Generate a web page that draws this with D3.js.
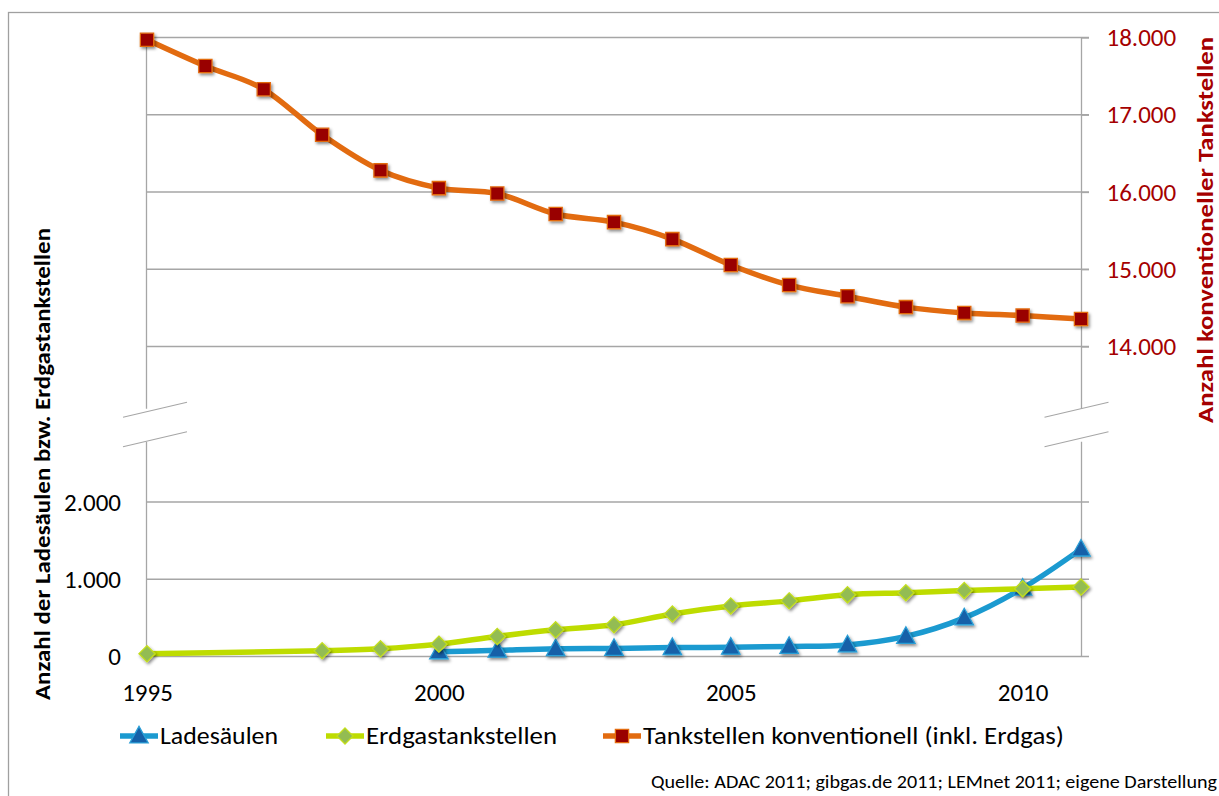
<!DOCTYPE html>
<html>
<head>
<meta charset="utf-8">
<script src="https://cdn.jsdelivr.net/npm/d3@7"></script>
<style>
  html, body { margin: 0; padding: 0; background: #fff; }
  svg { display: block; }
  text { font-family: Carlito, Lato, "Open Sans", sans-serif; }
</style>
</head>
<body>
<svg id="chart" width="1219" height="796"></svg>
<script>
// Jahre und Werte
const years = [1995, 1996, 1997, 1998, 1999, 2000, 2001, 2002, 2003, 2004, 2005, 2006, 2007, 2008, 2009, 2010, 2011];
const ladesaeulen = [null, null, null, null, null, 60, 80, 100, 105, 115, 120, 130, 150, 260, 500, 885, 1390];
const erdgastankstellen = [35, null, null, 75, 100, 160, 260, 345, 410, 550, 655, 720, 800, 825, 855, 877, 899];
const tankstellen = [17970, 17630, 17330, 16740, 16280, 16050, 15980, 15715, 15610, 15390, 15055, 14795, 14650, 14510, 14435, 14400, 14355];

const xTicks = [1995, 2000, 2005, 2010];
const leftTicks = [0, 1000, 2000];
const rightTicks = [14000, 15000, 16000, 17000, 18000];

const seriesNames = ["Ladesäulen", "Erdgastankstellen", "Tankstellen konventionell (inkl. Erdgas)"];
const leftTitle = "Anzahl der Ladesäulen bzw. Erdgastankstellen";
const rightTitle = "Anzahl konventioneller Tankstellen";
const sourceNote = "Quelle:  ADAC 2011; gibgas.de 2011; LEMnet 2011; eigene Darstellung";

const de = d3.formatLocale({ decimal: ",", thousands: ".", grouping: [3], currency: ["", " €"] });
const fmt = de.format(",");

const svg = d3.select("#chart");
const gridColor = "#a6a6a6";
const darkRed = "#a50000";

// Scales: the left axis (0 to 3.000) and the right axis (13.000 to 18.000) share one pixel ratio
const x = d3.scaleLinear().domain([1995, 2011]).range([147, 1081]);
const yL = d3.scaleLinear().domain([0, 2000]).range([656.5, 502]);
const yR = d3.scaleLinear().domain([14000, 18000]).range([346.5, 37.5]);
const plotLeft = 146.5, plotRight = 1081.5, tickEnd = 1089;
const breakY = yL(3000);

// Outer frame
svg.append("rect").attr("x", 8.5).attr("y", 12.5).attr("width", 1230).attr("height", 800)
  .attr("fill", "none").attr("stroke", "#a0a0a0").attr("stroke-width", 1.3);

// Shadow for markers
const defs = svg.append("defs");
const f = defs.append("filter").attr("id", "shadow").attr("x", "-50%").attr("y", "-50%").attr("width", "200%").attr("height", "200%");
f.append("feDropShadow").attr("dx", 1.5).attr("dy", 2).attr("stdDeviation", 1.4).attr("flood-color", "#000").attr("flood-opacity", 0.45);

// Gridlines
const grid = svg.append("g").attr("stroke", gridColor).attr("stroke-width", 1.3);
rightTicks.forEach(v => grid.append("line").attr("x1", plotLeft).attr("x2", tickEnd).attr("y1", yR(v)).attr("y2", yR(v)));
leftTicks.forEach(v => grid.append("line").attr("x1", plotLeft).attr("x2", tickEnd).attr("y1", yL(v)).attr("y2", yL(v)));

// Vertical axis lines with a break
const axes = svg.append("g").attr("stroke", gridColor).attr("stroke-width", 1.3);
[plotLeft, plotRight].forEach(ax => {
  axes.append("line").attr("x1", ax).attr("x2", ax).attr("y1", yR(18000)).attr("y2", breakY - 16);
  axes.append("line").attr("x1", ax).attr("x2", ax).attr("y1", breakY + 17).attr("y2", yL(0));
});
// Break marks
[155, 1076.5].forEach(cx => {
  [-15, 14.5].forEach(dy => {
    axes.append("line")
      .attr("x1", cx - 32).attr("y1", breakY + dy + 7.5)
      .attr("x2", cx + 32).attr("y2", breakY + dy - 7.5)
      .attr("stroke-width", 1.1);
  });
});

// Axis labels
const tickFont = "25px";
const gx = svg.append("g").attr("transform", `translate(0,${yL(0)})`)
  .call(d3.axisBottom(x).tickValues(xTicks).tickFormat(d3.format("d")).tickSize(0).tickPadding(26.5));
const gl = svg.append("g").attr("transform", `translate(${plotLeft},0)`)
  .call(d3.axisLeft(yL).tickValues(leftTicks).tickFormat(fmt).tickSize(0).tickPadding(25.5));
const gr = svg.append("g").attr("transform", `translate(${plotRight},0)`)
  .call(d3.axisRight(yR).tickValues(rightTicks).tickFormat(fmt).tickSize(tickEnd - plotRight).tickPadding(17.5));
[gx, gl, gr].forEach(g => {
  g.select(".domain").remove();
  g.selectAll("text").attr("font-family", "Carlito, Lato, sans-serif").attr("font-size", tickFont).attr("fill", "#000");
});
gr.selectAll("text").attr("fill", darkRed);
gr.selectAll(".tick line").attr("stroke", gridColor).attr("stroke-width", 1.3);

// Axis titles
svg.append("text").attr("transform", "translate(50,464) rotate(-90)")
  .attr("text-anchor", "middle").attr("font-weight", "bold").attr("font-size", 22)
  .attr("textLength", 472).attr("lengthAdjust", "spacingAndGlyphs").text(leftTitle);
svg.append("text").attr("transform", "translate(1213,230) rotate(-90)")
  .attr("text-anchor", "middle").attr("font-weight", "bold").attr("font-size", 22).attr("fill", darkRed)
  .attr("textLength", 386).attr("lengthAdjust", "spacingAndGlyphs").text(rightTitle);

// Marker shapes: triangle, square diamond, square
const triangle = { draw(ctx, size) { const r = Math.sqrt(size) * 0.62; ctx.moveTo(0, -r * 1.05); ctx.lineTo(r, r * 0.75); ctx.lineTo(-r, r * 0.75); ctx.closePath(); } };
const diamond = { draw(ctx, size) { const r = Math.sqrt(size) / 2; ctx.moveTo(0, -r); ctx.lineTo(r, 0); ctx.lineTo(0, r); ctx.lineTo(-r, 0); ctx.closePath(); } };

// Series definitions
const styles = [
  { values: ladesaeulen, y: yL, line: "#1b9ad0", fill: "#1560a8", stroke: "#2a9ed6", shape: triangle, size: 220 },
  { values: erdgastankstellen, y: yL, line: "#bedc00", fill: "#93bc52", stroke: "#c3de1c", shape: diamond, size: 260 },
  { values: tankstellen, y: yR, line: "#e26b10", fill: "#990000", stroke: "#e26b10", shape: d3.symbolSquare, size: 175 }
];

const lineGen = d3.line().curve(d3.curveCardinal.tension(0));

styles.forEach(s => {
  const pts = years.map((yr, i) => [yr, s.values[i]]).filter(d => d[1] != null);
  const g = svg.append("g");
  g.append("path")
    .attr("d", lineGen(pts.map(d => [x(d[0]), s.y(d[1])])))
    .attr("fill", "none").attr("stroke", s.line).attr("stroke-width", 5.5)
    .attr("stroke-linejoin", "round").attr("stroke-linecap", "round");
  g.selectAll("path.m").data(pts).join("path").attr("class", "m")
    .attr("transform", d => `translate(${x(d[0])},${s.y(d[1])})`)
    .attr("d", d3.symbol(s.shape, s.size))
    .attr("fill", s.fill).attr("stroke", s.stroke).attr("stroke-width", 1.3)
    .attr("filter", "url(#shadow)");
});

// Legend
const legendY = 736;
const legendX = [120, 326, 603];
const legendLen = [118, 191, 421];
const legend = svg.append("g");
styles.forEach((s, i) => {
  const lx = legendX[i];
  legend.append("line").attr("x1", lx).attr("x2", lx + 38).attr("y1", legendY).attr("y2", legendY)
    .attr("stroke", s.line).attr("stroke-width", 5.5);
  legend.append("path").attr("transform", `translate(${lx + 19},${legendY})`)
    .attr("d", d3.symbol(s.shape, s.size)).attr("fill", s.fill).attr("stroke", s.stroke).attr("stroke-width", 1.3);
  legend.append("text").attr("x", lx + 40).attr("y", legendY).attr("dy", "0.35em")
    .attr("font-size", 24).attr("fill", "#000")
    .attr("textLength", legendLen[i]).attr("lengthAdjust", "spacingAndGlyphs").text(seriesNames[i]);
});

// Source
svg.append("text").attr("x", 651).attr("y", 788)
  .attr("font-size", 18).attr("fill", "#000")
  .attr("textLength", 566).attr("lengthAdjust", "spacingAndGlyphs").text(sourceNote);
</script>
</body>
</html>
